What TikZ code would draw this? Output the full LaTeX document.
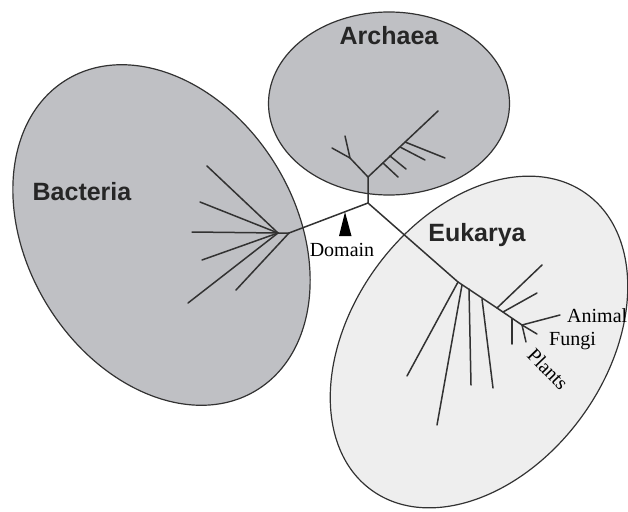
\documentclass[tikz,border=0pt]{standalone}
\usepackage{fontspec}
\setmainfont{Liberation Serif}
\newfontfamily\domfont{Liberation Sans}
\definecolor{domgray}{RGB}{191,192,196}
\definecolor{eukgray}{RGB}{238,238,238}
\definecolor{linegray}{RGB}{50,50,50}
\usetikzlibrary{shapes.geometric}

\begin{document}
\begin{tikzpicture}[x=1pt, y=-1pt,
  dom/.style={ellipse, draw=linegray, line width=1.2pt, inner sep=0pt},
  branch/.style={draw=linegray, line width=1.5pt, line cap=round},
  dlabel/.style={font=\domfont\fontsize{25}{30}\selectfont\bfseries,
                 text=black!85, inner sep=0pt, anchor=base},
  tlabel/.style={font=\fontsize{20}{24}\selectfont, inner sep=0pt}
]
\useasboundingbox (0,0) rectangle (628,511);

% Domains
\node[dom, fill=domgray, minimum width=364pt, minimum height=268pt, rotate=-58.5] (bact) at (161.5,235) {};
\node[dom, fill=domgray, minimum width=241pt, minimum height=183pt]              (arch) at (389,103.5) {};
\node[dom, fill=eukgray, minimum width=366pt, minimum height=254pt, rotate=54]   (euk)  at (479,342) {};

% Root of the tree
\coordinate (root) at (368,203);

% Archaea branch
\coordinate (aBase)  at (368,177);
\coordinate (aFork)  at (350,158);
\coordinate (aLeafA) at (332,148);
\coordinate (aLeafB) at (345,136);
\coordinate (aTip)   at (438,111);
\coordinate (aS1) at (383,163); \coordinate (aE1) at (398,177);
\coordinate (aS2) at (390,156); \coordinate (aE2) at (406,169);
\coordinate (aS3) at (400,147); \coordinate (aE3) at (425,160);
\coordinate (aS4) at (405,142); \coordinate (aE4) at (445,158);
\draw[branch] (root) -- (aBase) -- (aTip);
\draw[branch] (aBase) -- (aFork) -- (aLeafA);
\draw[branch] (aFork) -- (aLeafB);
\foreach \i in {1,...,4}
  \draw[branch] (aS\i) -- (aE\i);

% Bacteria branch
\coordinate (bHubB) at (289,233);
\coordinate (bHub)  at (278,233);
\coordinate (bL1) at (207,166);
\coordinate (bL2) at (200,202);
\coordinate (bL3) at (192,232);
\coordinate (bL4) at (202,260);
\coordinate (bL5) at (188,303);
\coordinate (bL6) at (236,290);
\draw[branch] (root) -- (bHubB) -- (bHub);
\foreach \i in {1,...,5}
  \draw[branch] (bHub) -- (bL\i);
\draw[branch] (bHubB) -- (bL6);

% Eukarya branch
\coordinate (eHub) at (458,282);
\coordinate (eM1)  at (497,308);
\coordinate (eJ)   at (522,325);
\coordinate (eTip) at (537,334);
\draw[branch] (root) -- (eHub) -- (eM1) -- (eJ) -- (eTip);
\draw[branch] (eHub) -- (407,376) coordinate (eL1);
\draw[branch] (462,285) coordinate (eS2) -- (437,425) coordinate (eL2);
\draw[branch] (469,289) coordinate (eS3) -- (471,385) coordinate (eL3);
\draw[branch] (482,299) coordinate (eS4) -- (493,388) coordinate (eL4);
\draw[branch] (eM1) -- (542,265) coordinate (eU1);
\draw[branch] (503,312) coordinate (eS5) -- (537,293) coordinate (eU2);
\draw[branch] (eJ) -- (560,315) coordinate (eAnimal);
\draw[branch] (512,319) coordinate (eS6) -- (512,344) coordinate (eP1);
\draw[branch] (eJ) -- (526,342) coordinate (eP2);

% Domain marker
\fill[black] (345,212) -- (351.5,236) -- (339,236) -- cycle;

% Labels
\node[dlabel] (archLbl) at (389,45)  {Archaea};
\node[dlabel] (bactLbl) at (82,200)  {Bacteria};
\node[dlabel] (eukLbl)  at (477,241) {Eukarya};
\node[tlabel, anchor=base]      (domLbl)    at (342,256) {Domain};
\node[tlabel, anchor=base west] (animalLbl) at (567,322) {Animal};
\node[tlabel, anchor=base west] (fungiLbl)  at (549,345) {Fungi};
\node[tlabel, rotate=-46]       (plantsLbl) at (548,369) {Plants};
\end{tikzpicture}
\end{document}
